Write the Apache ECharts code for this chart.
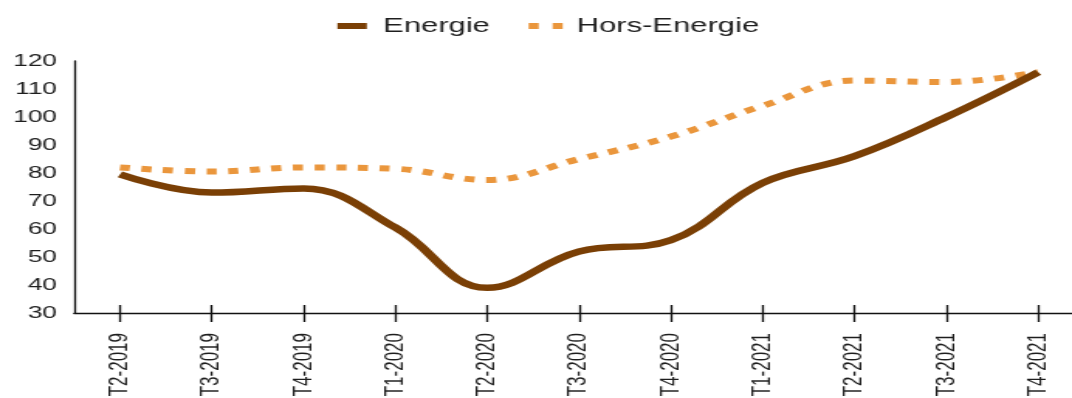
<!DOCTYPE html>
<html>
<head>
<meta charset="utf-8">
<script src="https://cdn.jsdelivr.net/npm/echarts@6/dist/echarts.min.js"></script>
<style>
  html, body { margin: 0; padding: 0; background: #fff; overflow: hidden; }
  /* the chart is laid out narrower and widened horizontally */
  #wrap { width: 692px; height: 398px; transform: scaleX(1.54913); transform-origin: 0 0; }
</style>
</head>
<body>
<div id="wrap"></div>
<script>
const categories = ['T2-2019', 'T3-2019', 'T4-2019', 'T1-2020', 'T2-2020', 'T3-2020',
                    'T4-2020', 'T1-2021', 'T2-2021', 'T3-2021', 'T4-2021'];
const energie     = [79.5, 73, 74.5, 60.5, 39, 52, 56, 76.5, 86, 100, 116];
const horsEnergie = [82, 80.5, 82, 81.5, 77.5, 85, 93, 104, 113, 112.5, 116];
const yTicks = { min: 30, max: 120, interval: 10 };

const FONT = '"Liberation Sans", Arial, sans-serif';
const TEXT = '#1e1e1e';
const AXIS = '#111';
const BROWN = '#7a3f05';
const ORANGE = '#ea963c';

const chart = echarts.init(document.getElementById('wrap'), null, { renderer: 'canvas' });

const baseX = {
  type: 'category',
  data: categories,
  position: 'bottom',
  boundaryGap: true
};

chart.setOption({
  animation: false,
  legend: {
    left: 212.8,
    top: 11,
    itemWidth: 22,
    itemHeight: 6,
    itemGap: 25,
    symbolKeepAspect: true,
    itemStyle: { borderWidth: 0 },
    textStyle: { fontFamily: FONT, fontSize: 20, color: TEXT, padding: [0, 0, 0, 4] },
    data: [
      { name: 'Energie', icon: 'path://M0,0h19v6h-19z',
        itemStyle: { color: BROWN, borderWidth: 0 },
        lineStyle: { color: BROWN, width: 6, type: 'solid', cap: 'butt' } },
      { name: 'Hors-Energie', icon: 'path://M0,0h6.5v6h-6.5zM15.5,0h6.5v6h-6.5z',
        itemStyle: { color: ORANGE, borderWidth: 0 },
        lineStyle: { color: ORANGE, width: 6, type: [6.5, 9], cap: 'butt' } }
    ]
  },
  grid: { left: 47.8, top: 61, width: 652, bottom: 85, containLabel: false, outerBoundsMode: 'none' },
  xAxis: [
    Object.assign({}, baseX, {
      axisLine: { show: true, lineStyle: { color: AXIS, width: 1.3 } },
      axisTick: { show: true, alignWithLabel: true, inside: false, length: 9, lineStyle: { color: AXIS, width: 1.3 } },
      axisLabel: { rotate: 90, margin: 20, fontFamily: FONT, fontSize: 17, color: TEXT, interval: 0 }
    }),
    Object.assign({}, baseX, {
      axisLine: { show: false },
      axisTick: { show: true, alignWithLabel: true, inside: true, length: 8, lineStyle: { color: AXIS, width: 1.3 } },
      axisLabel: { show: false }
    })
  ],
  yAxis: {
    type: 'value',
    min: yTicks.min,
    max: yTicks.max,
    interval: yTicks.interval,
    axisLine: { show: true, lineStyle: { color: AXIS, width: 1.3 } },
    axisTick: { show: false },
    splitLine: { show: false },
    axisLabel: { margin: 11, fontFamily: FONT, fontSize: 17, color: TEXT }
  },
  series: [
    {
      name: 'Energie',
      type: 'line',
      data: energie,
      smooth: 0.4,
      symbol: 'none',
      color: BROWN,
      lineStyle: { color: BROWN, width: 6.5, cap: 'butt' },
      z: 3
    },
    {
      name: 'Hors-Energie',
      type: 'line',
      data: horsEnergie,
      smooth: 0.4,
      symbol: 'none',
      color: ORANGE,
      lineStyle: { color: ORANGE, width: 6, type: [6.5, 7.5], cap: 'butt' },
      z: 2
    }
  ]
});
</script>
</body>
</html>
